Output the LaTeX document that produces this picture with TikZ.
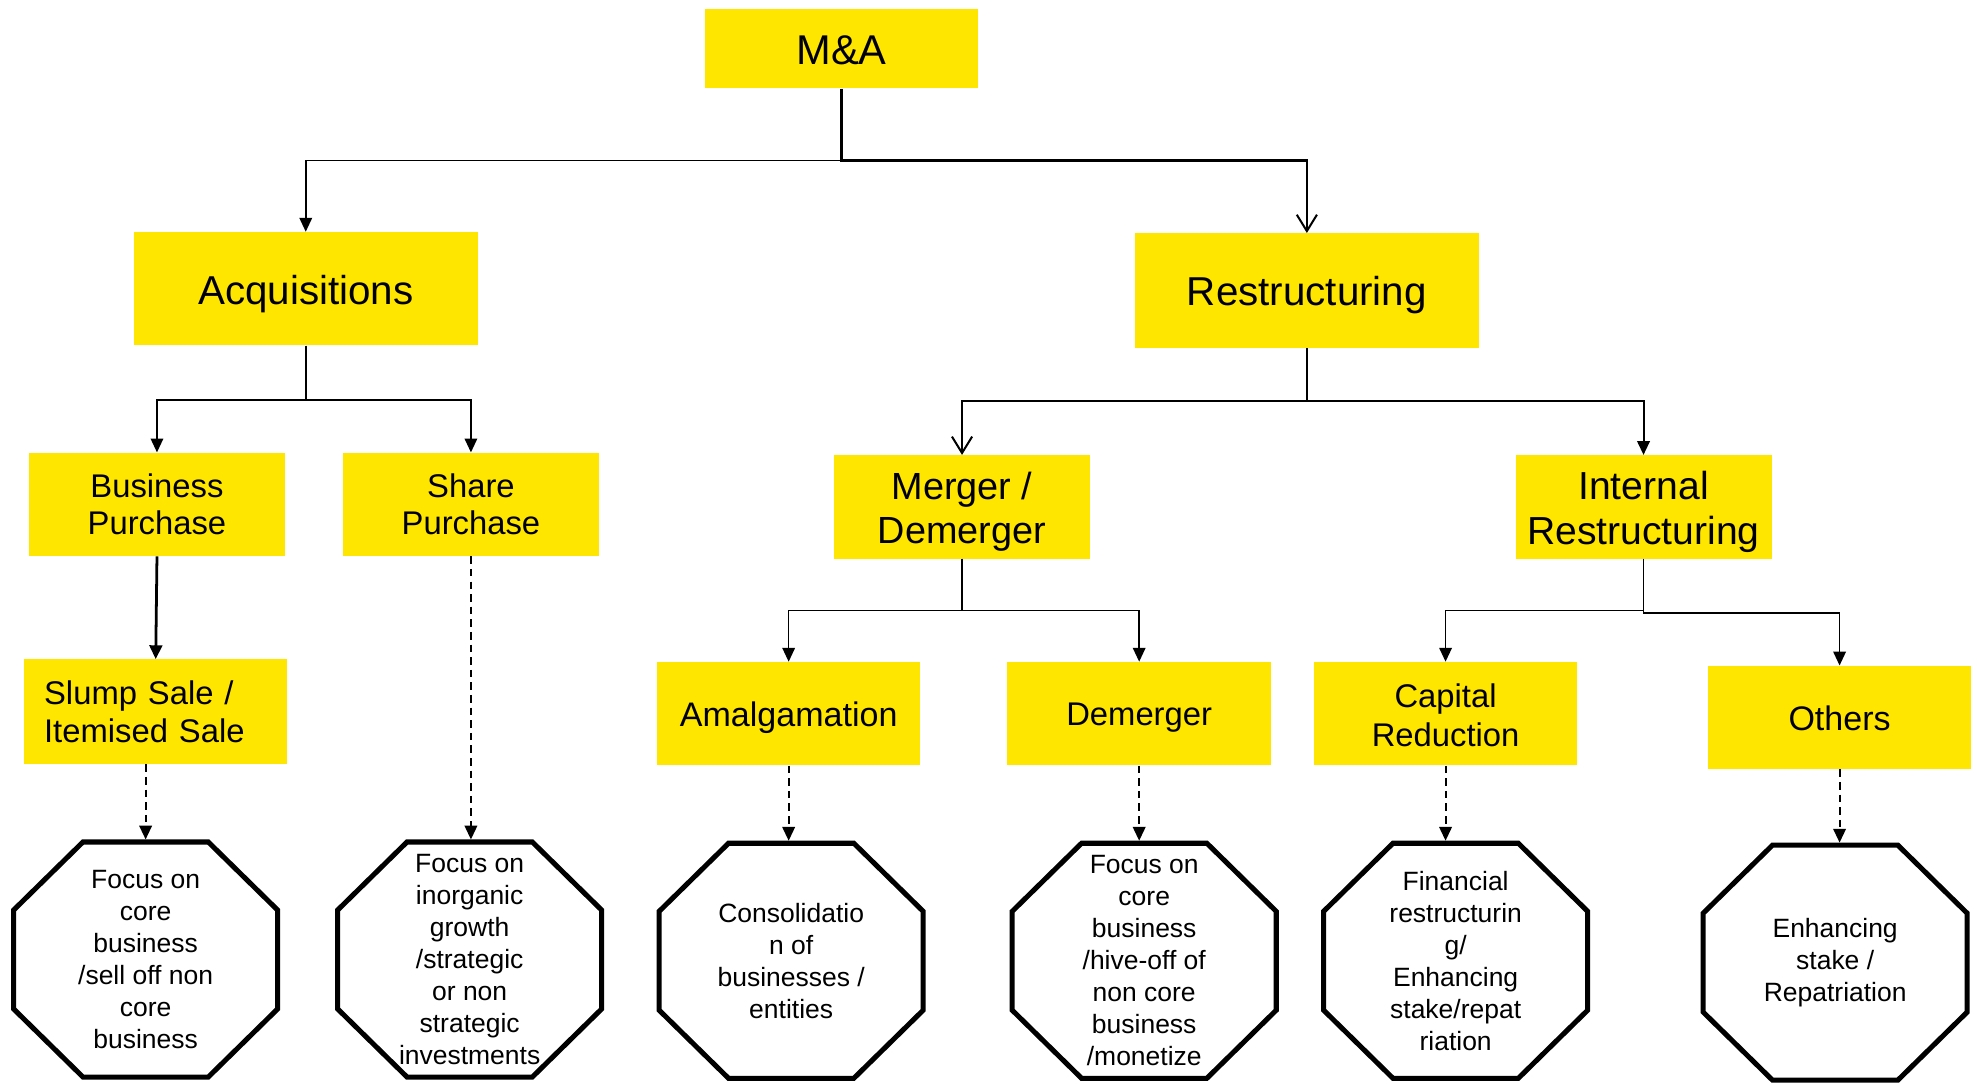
\documentclass[tikz,border=0pt]{standalone}
\usepackage{fontspec}
\setmainfont{Liberation Sans}
\usetikzlibrary{arrows.meta}
\definecolor{eyyellow}{HTML}{FFE600}

\newcommand\fsz[2]{\fontsize{#1}{#2}\selectfont}
% invisible strut that sets the height of a label's first line
\newcommand\lift[1]{\rule{0pt}{#1}}
% octagon drawn on the frame of a (rectangular) node
\newcommand\octframe[1]{%
  \draw[octline] ([xshift=55pt]#1.north west) -- ([xshift=-55pt]#1.north east)
    -- ([yshift=-54pt]#1.north east) -- ([yshift=54pt]#1.south east)
    -- ([xshift=-55pt]#1.south east) -- ([xshift=55pt]#1.south west)
    -- ([yshift=54pt]#1.south west) -- ([yshift=-54pt]#1.north west) -- cycle;}

\begin{document}
\begin{tikzpicture}[x=1pt,y=-1pt,
  box/.style={fill=eyyellow, inner sep=0pt, align=center, text=black},
  octa/.style={inner sep=0pt, align=center, minimum width=209pt, minimum height=186pt,
    font=\fsz{21}{25.4}},
  octline/.style={line width=4pt, line join=miter, fill=white},
  conn/.style={line width=1.2pt, -{Triangle[length=11pt,width=10pt]}},
  openconn/.style={line width=1.8pt, -{Straight Barb[length=13pt,width=16pt,line width=1.6pt]}},
  dconn/.style={line width=1.5pt, dash pattern=on 6pt off 4pt,
    -{Triangle[length=11pt,width=10pt]}, shorten >=2pt}]
\useasboundingbox (0,0) rectangle (1568,859);

% top level
\node[box, minimum width=217pt, minimum height=63pt, font=\fsz{33}{38}] (ma) at (667.5,38.5) {\lift{25.5pt}M\&A};

% second level
\node[box, minimum width=273pt, minimum height=90pt, font=\fsz{32}{38}] (acq) at (242.5,229) {\lift{31pt}Acquisitions};
\node[box, minimum width=273pt, minimum height=91pt, font=\fsz{32}{38}] (res) at (1036.5,230.5) {\lift{31pt}Restructuring};

% third level
\node[box, minimum width=203pt, minimum height=82pt, font=\fsz{26}{30}] (bp) at (124.5,400) {Business\\Purchase};
\node[box, minimum width=203pt, minimum height=82pt, font=\fsz{26}{30}] (sp) at (373.5,400) {Share\\Purchase};
\node[box, minimum width=203pt, minimum height=82pt, font=\fsz{30}{35}] (md) at (763,402) {\lift{30pt}Merger /\\Demerger};
\node[box, minimum width=203pt, minimum height=82pt, font=\fsz{31}{35}] (ir) at (1303.5,402) {\lift{30.5pt}Internal\\Restructuring};

% fourth level
\node[box, minimum width=209pt, minimum height=83pt, font=\fsz{26}{30}, text width=177pt, align=left] (ss) at (123.5,564.5) {Slump Sale /\\Itemised Sale};
\node[box, minimum width=209pt, minimum height=82pt, font=\fsz{27}{31}] (am) at (625.5,566) {\lift{25.5pt}Amalgamation};
\node[box, minimum width=209pt, minimum height=82pt, font=\fsz{26}{31}] (dm) at (903.5,566) {\lift{24.6pt}Demerger};
\node[box, minimum width=209pt, minimum height=82pt, font=\fsz{26}{31}] (cr) at (1146.5,566) {\lift{21.5pt}Capital\\Reduction};
\node[box, minimum width=208pt, minimum height=82pt, font=\fsz{27}{31}] (ot) at (1459,569) {\lift{21.5pt}Others};

% outcome octagons
\node[octa] (o1) at (115.5,761) {};
\node[octa] (o2) at (372.5,761) {};
\node[octa] (o3) at (627.5,762) {};
\node[octa] (o4) at (907.5,762) {};
\node[octa] (o5) at (1154.5,762) {};
\node[octa] (o6) at (1455.5,763.5) {};
\octframe{o1}\octframe{o2}\octframe{o3}\octframe{o4}\octframe{o5}\octframe{o6}
\node[octa] at (o1) {Focus on\\core\\business\\/sell off non\\core\\business};
\node[octa] at (o2) {Focus on\\inorganic\\growth\\/strategic\\or non\\strategic\\investments};
\node[octa] at (o3) {Consolidatio\\n of\\businesses /\\entities};
\node[octa] at (o4) {Focus on\\core\\business\\/hive-off of\\non core\\business\\/monetize};
\node[octa] at (o5) {Financial\\restructurin\\g/\\Enhancing\\stake/repat\\riation};
\node[octa] at (o6) {Enhancing\\stake /\\Repatriation};

% tree connectors
\draw[conn] (ma.south) -- ++(0,57) -| (acq.north);
\draw[openconn] (ma.south) -- ++(0,57) -| (res.north);
\draw[conn] (acq.south) -- ++(0,43) -| (bp.north);
\draw[conn] (acq.south) -- ++(0,43) -| (sp.north);
\draw[openconn] (res.south) -- ++(0,42) -| (md.north);
\draw[conn, line width=1.6pt] (res.south) -- ++(0,42) -| (ir.north);
\draw[conn] (md.south) -- ++(0,41) -| (am.north);
\draw[conn] (md.south) -- ++(0,41) -| (dm.north);
\draw[conn] (ir.south) -- ++(0,41) -| (cr.north);
\draw[conn] (ir.south) -- ++(0,43) -| (ot.north);
\draw[conn, line width=2.2pt] (bp.south) -- (ss.north);

% dashed links to outcomes
\draw[dconn] (o1.north |- ss.south) -- (o1.north);
\draw[dconn] (sp.south) -- (sp.south |- o2.north);
\draw[dconn] (am.south) -- (am.south |- o3.north);
\draw[dconn] (dm.south) -- (dm.south |- o4.north);
\draw[dconn] (cr.south) -- (cr.south |- o5.north);
\draw[dconn] (ot.south) -- (ot.south |- o6.north);
\end{tikzpicture}
\end{document}
